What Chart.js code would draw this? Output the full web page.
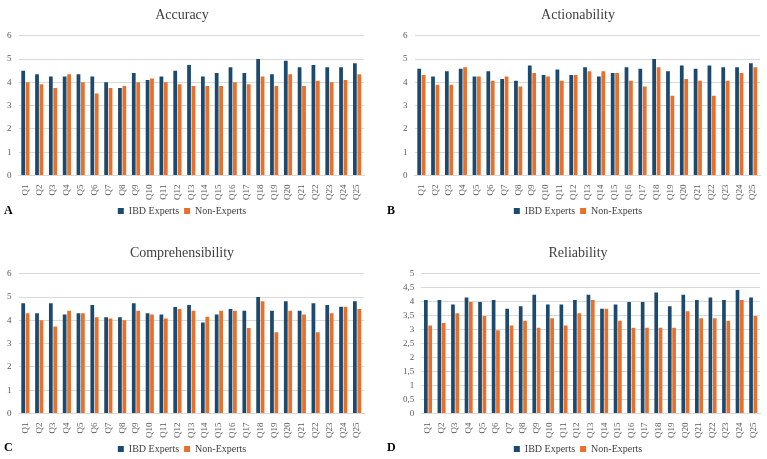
<!DOCTYPE html>
<html>
<head>
<meta charset="utf-8">
<script src="https://cdn.jsdelivr.net/npm/chart.js@4.4.1/dist/chart.umd.min.js"></script>
<style>
  html, body { margin: 0; background: #fff; overflow: hidden; }
  #wrap { position: relative; width: 767px; height: 459px; overflow: hidden; font-family: 'Liberation Serif', serif; }
  .panel { position: absolute; width: 370px; height: 227px; }
  .letter { position: absolute; font-weight: bold; font-size: 12px; line-height: 14px; color: #000; }
</style>
</head>
<body>
<div id="wrap">
  <div class="panel" style="left:0;top:0"><canvas id="cA"></canvas></div>
  <div class="panel" style="left:396px;top:0"><canvas id="cB"></canvas></div>
  <div class="panel" style="left:0;top:238px"><canvas id="cC"></canvas></div>
  <div class="panel" style="left:396px;top:238px"><canvas id="cD"></canvas></div>
  <div class="letter" style="left:4px;top:203px">A</div>
  <div class="letter" style="left:387px;top:203px">B</div>
  <div class="letter" style="left:4px;top:440px">C</div>
  <div class="letter" style="left:387px;top:440px">D</div>
</div>
<script>
const questions = ['Q1','Q2','Q3','Q4','Q5','Q6','Q7','Q8','Q9','Q10','Q11','Q12','Q13',
  'Q14','Q15','Q16','Q17','Q18','Q19','Q20','Q21','Q22','Q23','Q24','Q25'];
const seriesNames = ['IBD Experts', 'Non-Experts'];

const accuracyExperts = [4.5,4.35,4.25,4.25,4.35,4.25,4.0,3.76,4.4,4.1,4.25,4.5,4.75,
  4.25,4.4,4.65,4.4,5.0,4.35,4.93,4.65,4.75,4.65,4.65,4.82];
const accuracyNon = [4.0,3.92,3.76,4.35,4.0,3.52,3.76,3.84,4.0,4.17,4.0,3.92,3.84,
  3.84,3.84,4.0,3.92,4.25,3.84,4.35,3.84,4.07,4.0,4.1,4.35];

const actionExperts = [4.58,4.25,4.48,4.58,4.25,4.48,4.14,4.07,4.72,4.32,4.55,4.32,4.65,
  4.25,4.4,4.65,4.58,5.0,4.48,4.72,4.58,4.72,4.65,4.65,4.82];
const actionNon = [4.32,3.9,3.9,4.65,4.25,4.07,4.25,3.82,4.4,4.25,4.07,4.32,4.48,
  4.48,4.4,4.07,3.82,4.65,3.42,4.14,4.07,3.42,4.07,4.4,4.65];

const comprehExperts = [4.74,4.31,4.74,4.25,4.31,4.66,4.13,4.13,4.74,4.31,4.25,4.57,4.66,
  3.91,4.25,4.49,4.41,5.0,4.41,4.82,4.41,4.74,4.66,4.59,4.82];
const comprehNon = [4.31,4.0,3.74,4.41,4.31,4.13,4.08,4.0,4.41,4.25,4.08,4.49,4.41,
  4.16,4.41,4.41,3.67,4.82,3.49,4.41,4.25,3.49,4.31,4.59,4.49];

const reliabExperts = [4.06,4.06,3.9,4.15,3.99,4.06,3.75,3.84,4.25,3.9,3.9,4.06,4.25,
  3.75,3.9,3.99,3.99,4.33,3.84,4.25,4.06,4.15,4.06,4.42,4.15];
const reliabNon = [3.15,3.24,3.59,3.99,3.49,2.98,3.15,3.32,3.07,3.41,3.15,3.59,4.06,
  3.75,3.32,3.07,3.07,3.07,3.07,3.66,3.41,3.41,3.32,4.06,3.49];

const BLUE = '#1c4a6e';
const ORANGE = '#e8702a';
const FONT = "'Liberation Serif', serif";

function makeChart(id, title, experts, non, yMax, yStep, comma) {
  return new Chart(document.getElementById(id), {
    type: 'bar',
    data: {
      labels: questions,
      datasets: [
        { label: seriesNames[0], data: experts, backgroundColor: BLUE },
        { label: seriesNames[1], data: non, backgroundColor: ORANGE }
      ]
    },
    options: {
      responsive: true,
      maintainAspectRatio: false,
      animation: false,
      datasets: { bar: { categoryPercentage: 0.64, barPercentage: 0.85 } },
      layout: { padding: { left: 0, right: 6, top: 2, bottom: 1 } },
      plugins: {
        title: {
          display: true, text: title, color: '#404040',
          font: { family: FONT, size: 14, weight: 'normal' },
          padding: { top: 5, bottom: 12 }
        },
        legend: {
          position: 'bottom',
          labels: {
            boxWidth: 6, boxHeight: 6, padding: 5, color: '#404040',
            font: { family: FONT, size: 10 }
          }
        },
        tooltip: { enabled: false }
      },
      scales: {
        x: {
          grid: { display: false },
          border: { color: '#d9d9d9' },
          ticks: {
            minRotation: 90, maxRotation: 90, autoSkip: false, padding: 1,
            color: '#595959', font: { family: FONT, size: 9 }
          }
        },
        y: {
          min: 0, max: yMax,
          grid: { color: '#d9d9d9', drawTicks: false },
          border: { display: false },
          ticks: {
            stepSize: yStep, autoSkip: false, padding: 7, color: '#595959',
            font: { family: FONT, size: 9 },
            callback: v => comma ? String(v).replace('.', ',') : v
          }
        }
      }
    }
  });
}

makeChart('cA', 'Accuracy', accuracyExperts, accuracyNon, 6, 1, false);
makeChart('cB', 'Actionability', actionExperts, actionNon, 6, 1, false);
makeChart('cC', 'Comprehensibility', comprehExperts, comprehNon, 6, 1, false);
makeChart('cD', 'Reliability', reliabExperts, reliabNon, 5, 0.5, true);
</script>
</body>
</html>
